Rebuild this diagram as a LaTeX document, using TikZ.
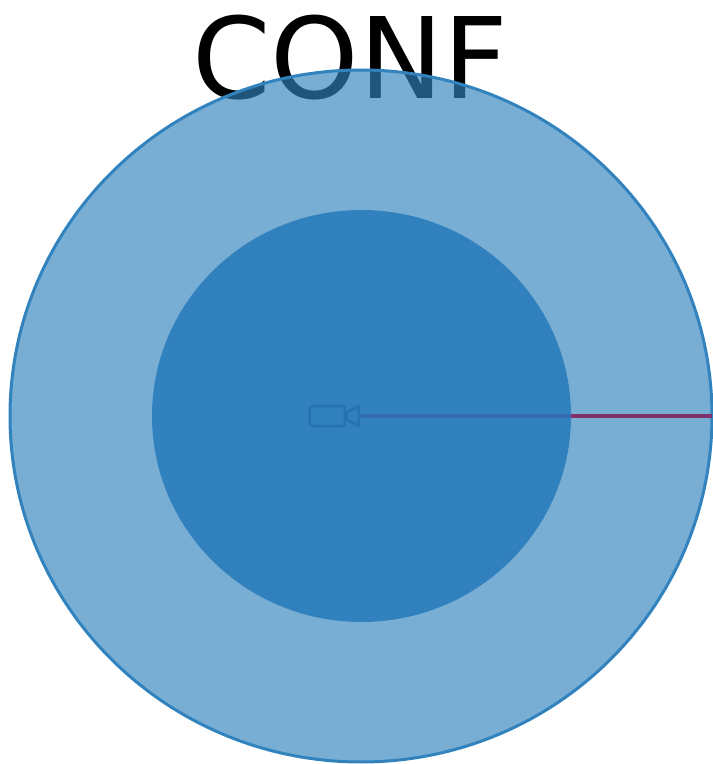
\documentclass[tikz,border=0pt]{standalone}
\usepackage{fontspec}
\setmainfont{DejaVu Sans}
\usetikzlibrary{shapes.geometric}
\definecolor{coneblue}{RGB}{49,130,189}
\definecolor{coredeep}{RGB}{36,122,185}
\definecolor{camblue}{RGB}{38,115,178}
\definecolor{rayred}{RGB}{130,48,105}
\tikzset{
  conetitle/.style={
    anchor=base,
    inner sep=0pt,
    font=\fontsize{32}{32}\selectfont
  },
  zone/.style={
    ellipse,
    inner sep=0pt,
    outer sep=0pt
  },
  outerzone/.style={
    zone,
    fill=coneblue,
    fill opacity=0.65,
    draw=coneblue,
    line width=0.03cm,
    minimum width=7.02cm,
    minimum height=6.92cm
  },
  innerzone/.style={
    zone,
    fill=coredeep,
    fill opacity=0.85,
    minimum width=4.19cm,
    minimum height=4.12cm
  },
  ray/.style={rayred, line width=0.035cm},
  cambody/.style={
    rectangle,
    rounded corners=0.02cm,
    draw=camblue,
    line width=0.025cm,
    minimum width=0.35cm,
    minimum height=0.2cm,
    inner sep=0pt
  },
  camlens/.style={draw=camblue, line width=0.025cm, line join=round}
}

\begin{document}
\begin{tikzpicture}
  \useasboundingbox (0,0) rectangle (7.12,7.64);
  \node[conetitle] (title) at (3.5,6.66) {CONF};
  \node[outerzone] (outer) at (3.61,3.48) {};
  \coordinate (rim) at (7.12,3.48);
  \coordinate (apex) at (3.6,3.48);
  \draw[ray] (apex) -- (rim);
  \node[innerzone] (inner) at (3.615,3.48) {};
  \node[cambody] (body) at (3.275,3.48) {};
  \draw[camlens] (3.47,3.44) -- (3.59,3.38) -- (3.59,3.58) -- (3.47,3.52) -- cycle;
\end{tikzpicture}
\end{document}
